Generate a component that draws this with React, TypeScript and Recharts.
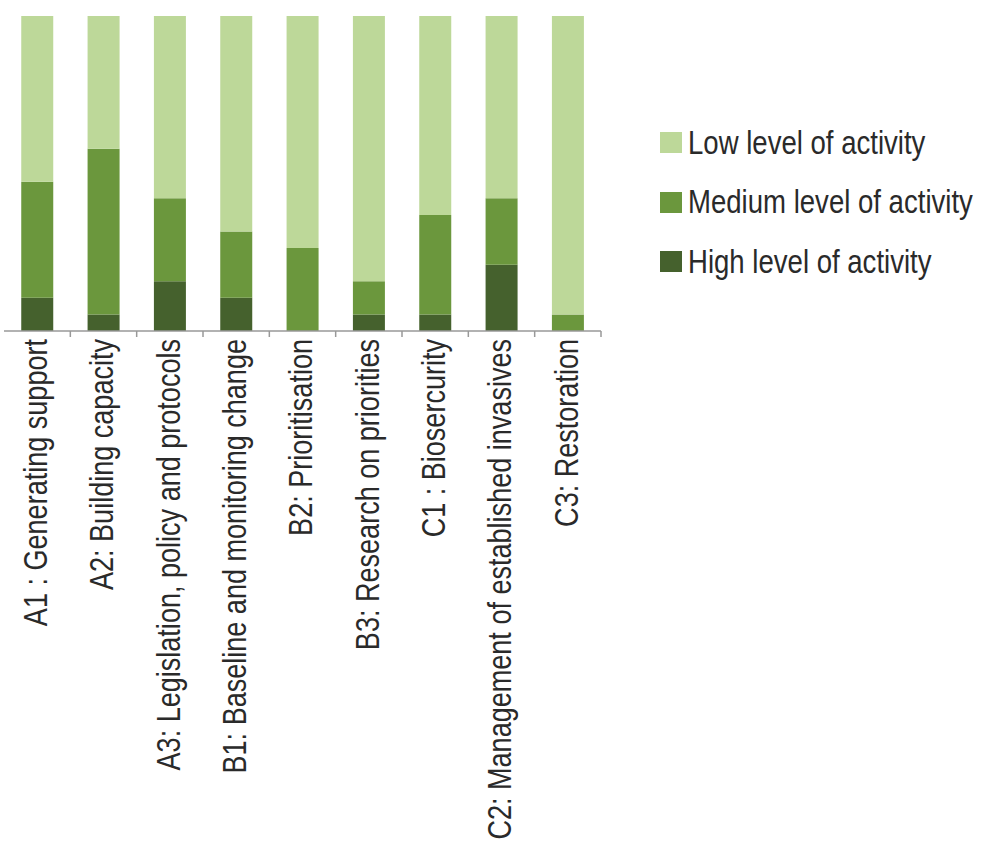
import { BarChart, Bar, XAxis, YAxis } from "recharts";

const categories = [
  "A1 : Generating support",
  "A2: Building capacity",
  "A3: Legislation, policy and protocols",
  "B1: Baseline and monitoring change",
  "B2: Prioritisation",
  "B3: Research on priorities",
  "C1 : Biosercurity",
  "C2: Management of established invasives",
  "C3: Restoration",
];

// counts per category
const high = [2, 1, 3, 2, 0, 1, 1, 4, 0];
const medium = [7, 10, 5, 4, 5, 2, 6, 4, 1];
const low = [10, 8, 11, 13, 14, 16, 12, 11, 18];

const seriesNames = [
  "Low level of activity",
  "Medium level of activity",
  "High level of activity",
];

const colors = {
  low: "#bdd899",
  medium: "#6b973d",
  high: "#45612d",
};

const FONT = "'Liberation Sans', Arial, sans-serif";
const SQUEEZE = 0.82;

const PLOT_LEFT = 4;
const PLOT_RIGHT = 601;
const band = (PLOT_RIGHT - PLOT_LEFT) / categories.length;

const data = categories.map((name, i) => ({
  name,
  high: high[i],
  medium: medium[i],
  low: low[i],
}));

const RotatedTick = (props: any) => {
  const { x, y, payload } = props;
  const bx = x + band / 2;
  return (
    <g>
      <line x1={bx} y1={y - 8} x2={bx} y2={y - 2} stroke="#999" strokeWidth={1.5} />
      <text
        x={0}
        y={0}
        transform={`translate(${x - 2}, ${y}) rotate(-90) scale(${SQUEEZE}, 1)`}
        textAnchor="end"
        dy="0.36em"
        fill="#2a2a2a"
        fontSize={33}
        fontFamily={FONT}
      >
        {payload.value}
      </text>
    </g>
  );
};

const legendColors = [colors.low, colors.medium, colors.high];

const LegendBox = () => (
  <div
    style={{
      position: "absolute",
      left: 660,
      top: 113,
      width: 330,
      fontFamily: FONT,
      fontSize: 33,
      color: "#2a2a2a",
    }}
  >
    {seriesNames.map((name, i) => (
      <div
        key={name}
        style={{ display: "flex", alignItems: "center", height: 59.5, whiteSpace: "nowrap" }}
      >
        <span
          style={{
            display: "inline-block",
            width: 22,
            height: 21,
            background: legendColors[i],
            marginRight: 6,
            flex: "none",
          }}
        />
        <span
          style={{
            display: "inline-block",
            transform: "scaleX(0.835)",
            transformOrigin: "left center",
          }}
        >
          {name}
        </span>
      </div>
    ))}
  </div>
);

export default function App() {
  return (
    <div style={{ position: "absolute", left: 0, top: 0, width: 985, height: 849, background: "#fff" }}>
      <BarChart
        width={985}
        height={849}
        data={data}
        stackOffset="expand"
        barCategoryGap="26%"
        margin={{ top: 16, right: 985 - PLOT_RIGHT, left: PLOT_LEFT, bottom: 18 }}
      >
        <XAxis
          dataKey="name"
          interval={0}
          height={500}
          tickLine={false}
          axisLine={{ stroke: "#999", strokeWidth: 1.5 }}
          tick={<RotatedTick />}
        />
        <YAxis hide />
        <Bar dataKey="high" stackId="a" fill={colors.high} isAnimationActive={false} />
        <Bar dataKey="medium" stackId="a" fill={colors.medium} isAnimationActive={false} />
        <Bar dataKey="low" stackId="a" fill={colors.low} isAnimationActive={false} />
      </BarChart>
      <LegendBox />
    </div>
  );
}
